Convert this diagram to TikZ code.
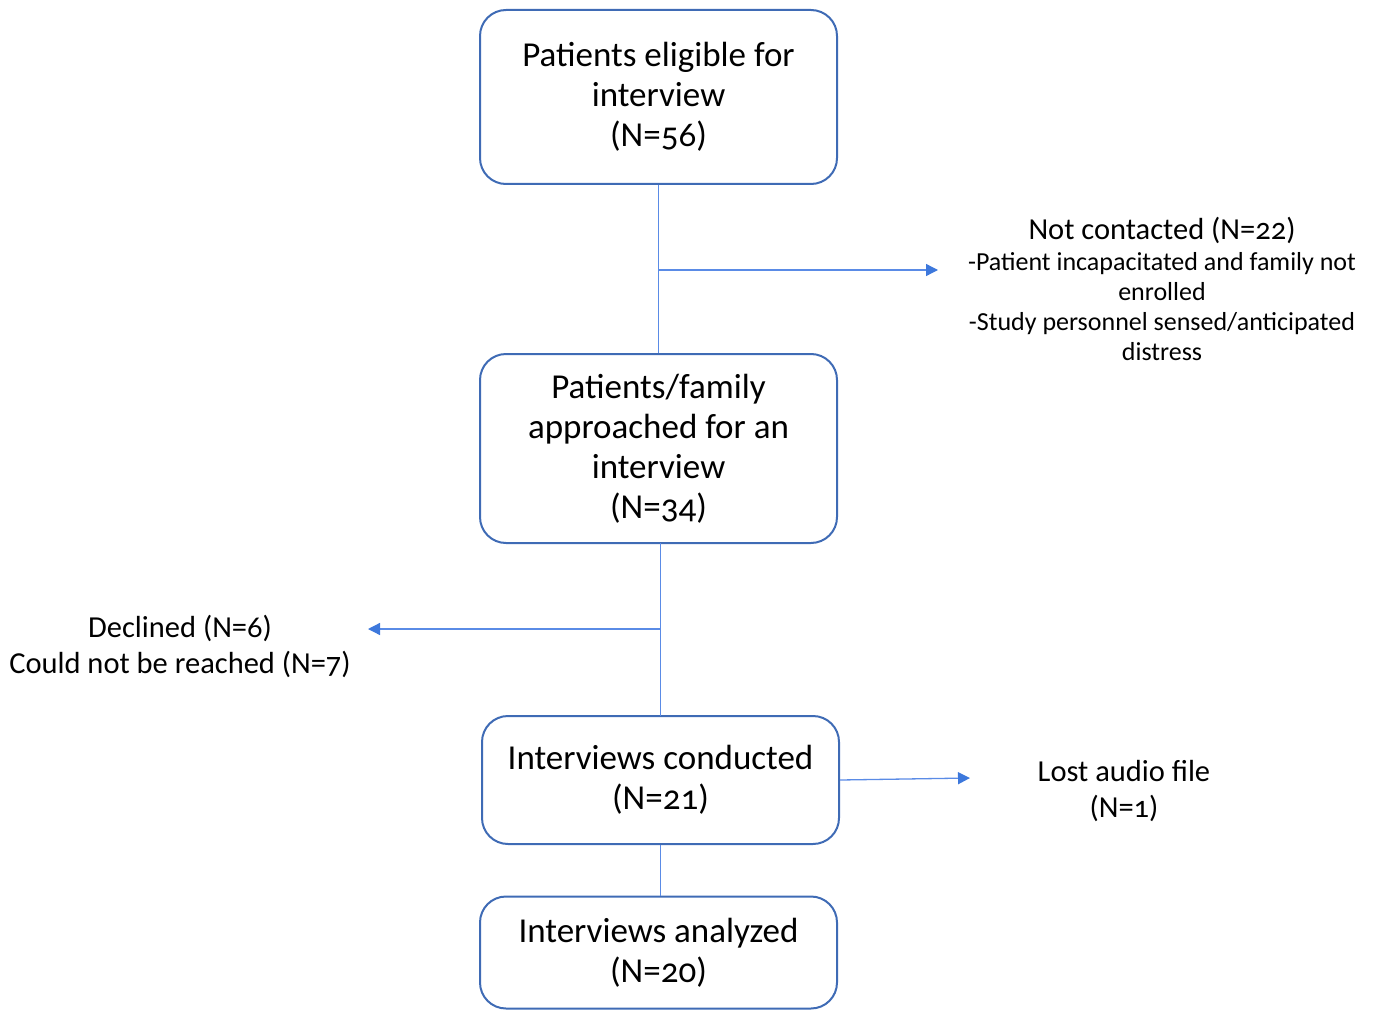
\documentclass[tikz,border=0pt]{standalone}
\usepackage{fontspec}
\setmainfont{Carlito}[Numbers=OldStyle]
\usetikzlibrary{arrows.meta}
\definecolor{boxblue}{HTML}{3F6BB5}
\definecolor{lineblue}{HTML}{5A8BE6}
\definecolor{tipblue}{HTML}{3D78DC}
\tikzset{
  box/.style={draw=boxblue, line width=2pt, rounded corners=26pt, minimum width=357pt, align=center, inner sep=0pt, font=\fontsize{35}{40}\selectfont},
  conn/.style={draw=lineblue, line width=1.3pt},
  arr/.style={conn, -{Triangle[length=12pt,width=12pt,color=tipblue]}},
  side/.style={align=center, inner sep=0pt, font=\fontsize{30.5}{36}\selectfont},
  small/.style={align=center, inner sep=0pt, font=\fontsize{26}{30}\selectfont}
}
\begin{document}
\begin{tikzpicture}[x=1pt,y=-1pt]
\useasboundingbox (0,0) rectangle (1375,1011);
\node[box, minimum height=174pt] (b1) at (658.5,97) {Patients eligible for\\interview\\(N=56)};
\node[box, minimum height=189pt] (b2) at (658.5,448.5) {Patients/family\\approached for an\\interview\\(N=34)};
\node[box, minimum height=128pt] (b3) at (660.5,780) {Interviews conducted\\(N=21)};
\node[box, minimum height=112pt] (b4) at (658.5,952.5) {Interviews analyzed\\(N=20)};

\node[side] (nc) at (1162,230) {Not contacted (N=22)};
\node[small] (ncd) at (1162,307) {-Patient incapacitated and family not\\enrolled\\-Study personnel sensed/anticipated\\distress};
\node[side] (dec) at (180,646) {Declined (N=6)\\Could not be reached (N=7)};
\node[side] (lost) at (1124,791) {Lost audio file\\(N=1)};

\coordinate (j1) at (658.5,270);
\coordinate (e1) at (938,270);
\coordinate (t2) at (660.5,543);
\coordinate (m2) at (660.5,716);
\coordinate (j2) at (660.5,629);
\coordinate (e2) at (368,629);
\coordinate (e3) at (970,778);

\draw[conn] (b1.south) -- (b2.north);
\draw[arr] (j1) -- (e1);
\draw[conn] (t2) -- (m2);
\draw[arr] (j2) -- (e2);
\draw[arr] (b3.east) -- (e3);
\draw[conn] (b3.south) -- (b4.north -| b3.south);
\end{tikzpicture}
\end{document}
